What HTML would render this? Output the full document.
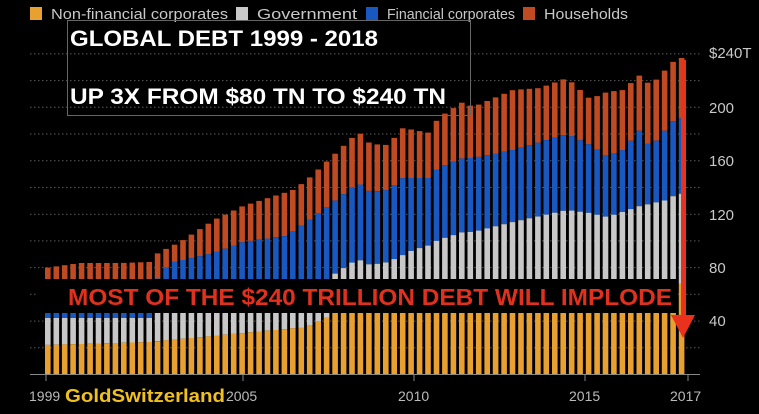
<!DOCTYPE html>
<html><head><meta charset="utf-8"><style>
html,body{margin:0;padding:0;background:#000;}
svg{display:block;}
</style></head><body>
<svg id="s" width="759" height="414" viewBox="0 0 759 414" xmlns="http://www.w3.org/2000/svg" font-family="Liberation Sans, sans-serif">
<rect width="759" height="414" fill="#000"/>
<g id="grid" stroke="#5a5a5a" stroke-width="1" stroke-dasharray="1.5,2.5"></g>
<g id="bars"></g>
<line x1="30" y1="374.5" x2="700" y2="374.5" stroke="#888" stroke-width="1"/>
<g stroke="#888" stroke-width="1">
<line x1="46" y1="374" x2="46" y2="381"/><line x1="243" y1="374" x2="243" y2="381"/>
<line x1="414" y1="374" x2="414" y2="381"/><line x1="585" y1="374" x2="585" y2="381"/>
<line x1="688" y1="374" x2="688" y2="381"/>
</g>
<g fill="#bbb" font-size="14">
<text x="29" y="401">1999</text>
<text x="226" y="401">2005</text>
<text x="398" y="401">2010</text>
<text x="569" y="401">2015</text>
<text x="670" y="401">2017</text>
</g>
<text x="65" y="402" fill="#f0c020" font-weight="bold" font-size="18" textLength="160" lengthAdjust="spacingAndGlyphs">GoldSwitzerland</text>
<g fill="#c8c8c8" font-size="15">
<text x="709" y="58">$240T</text>
<text x="709" y="113">200</text>
<text x="709" y="166">160</text>
<text x="709" y="220">120</text>
<text x="709" y="273">80</text>
<text x="709" y="326">40</text>
</g>
<rect x="30" y="7" width="12" height="13" fill="#e8a030"/>
<rect x="236" y="7" width="12" height="13" fill="#c8c8c8"/>
<rect x="366" y="7" width="12" height="13" fill="#1858c0"/>
<rect x="523" y="7" width="12" height="13" fill="#c04a22"/>
<g fill="#c8c8c8" font-size="15">
<text x="51" y="19" textLength="177" lengthAdjust="spacingAndGlyphs">Non-financial corporates</text>
<text x="257" y="19" textLength="100" lengthAdjust="spacingAndGlyphs">Government</text>
<text x="387" y="19" textLength="128" lengthAdjust="spacingAndGlyphs">Financial corporates</text>
<text x="544" y="19" textLength="84" lengthAdjust="spacingAndGlyphs">Households</text>
</g>
<rect x="67.5" y="20.5" width="403" height="95" fill="none" stroke="#666" stroke-width="1"/>
<text x="70" y="46" fill="#fff" font-weight="bold" font-size="22" textLength="308" lengthAdjust="spacingAndGlyphs">GLOBAL DEBT 1999 - 2018</text>
<text x="70" y="104" fill="#fff" font-weight="bold" font-size="22" textLength="376" lengthAdjust="spacingAndGlyphs">UP 3X FROM $80 TN TO $240 TN</text>
<rect x="38" y="279" width="639" height="34" fill="#000"/>
<text x="68" y="305" fill="#e0301e" font-weight="bold" font-size="23" textLength="604" lengthAdjust="spacingAndGlyphs">MOST OF THE $240 TRILLION DEBT WILL IMPLODE</text>
<rect x="681" y="60" width="5" height="258" fill="#e8321e"/>
<polygon points="671,315 695,315 683,338" fill="#e8321e"/>
</svg>
<script>
var ns="http://www.w3.org/2000/svg";
var g=document.getElementById('grid');
for(var v=20;v<=240;v+=20){var y=374.5-v*1.336;var l=document.createElementNS(ns,'line');l.setAttribute('x1',30);l.setAttribute('x2',700);l.setAttribute('y1',y.toFixed(1));l.setAttribute('y2',y.toFixed(1));g.appendChild(l);}
function interp(p,x){if(x<=p[0][0])return p[0][1];for(var i=1;i<p.length;i++){if(x<=p[i][0]){var a=p[i-1],b=p[i];return a[1]+(b[1]-a[1])*(x-a[0])/(b[0]-a[0]);}}return p[p.length-1][1];}
var T=[[45,268],[80,263],[120,263],[150,262],[158,253],[180,242],[214,220],[243,206],[293,190],[307,180],[353,137],[362,133],[370,144],[388,145],[403,128],[430,133],[438,118],[463,102],[473,107],[513,90],[540,88],[567,78],[590,99],[607,92],[623,90],[640,75],[650,85],[658,78],[667,68],[675,60],[685,57]];
var B=[[45,290],[150,290],[158,278],[170,263],[214,253],[243,242],[285,236],[307,222],[353,187],[362,184],[370,192],[388,190],[403,178],[430,178],[438,168],[463,158],[473,158],[513,150],[567,134],[590,145],[607,156],[623,150],[640,130],[650,148],[667,128],[675,119],[685,118]];
var G=[[45,318],[150,318],[160,300],[320,290],[333,275],[353,262],[362,260],[370,265],[388,262],[403,255],[413,250],[430,245],[438,240],[463,232],[473,232],[513,222],[567,210],[590,213],[607,217],[640,206],[667,200],[675,195],[685,193]];
var O=[[45,345],[150,342],[243,333],[307,327],[333,315],[345,300],[675,290],[685,280]];
var bars=document.getElementById('bars');
function r(x,y1,y2,c){if(y2<=y1)return;var e=document.createElementNS(ns,'rect');e.setAttribute('x',x.toFixed(1));e.setAttribute('y',y1.toFixed(1));e.setAttribute('width',5.6);e.setAttribute('height',(y2-y1).toFixed(1));e.setAttribute('fill',c);bars.appendChild(e);}
for(var i=0;i<76;i++){var x=45+i*8.45;var cx=x+2.8;
var t=interp(T,cx),b=interp(B,cx),gg=interp(G,cx),o=interp(O,cx);
r(x,t,b,'#c04a22');r(x,b,gg,'#1858c0');r(x,gg,o,'#c8c8c8');r(x,o,374,'#e8a030');}
</script>
</body></html>
